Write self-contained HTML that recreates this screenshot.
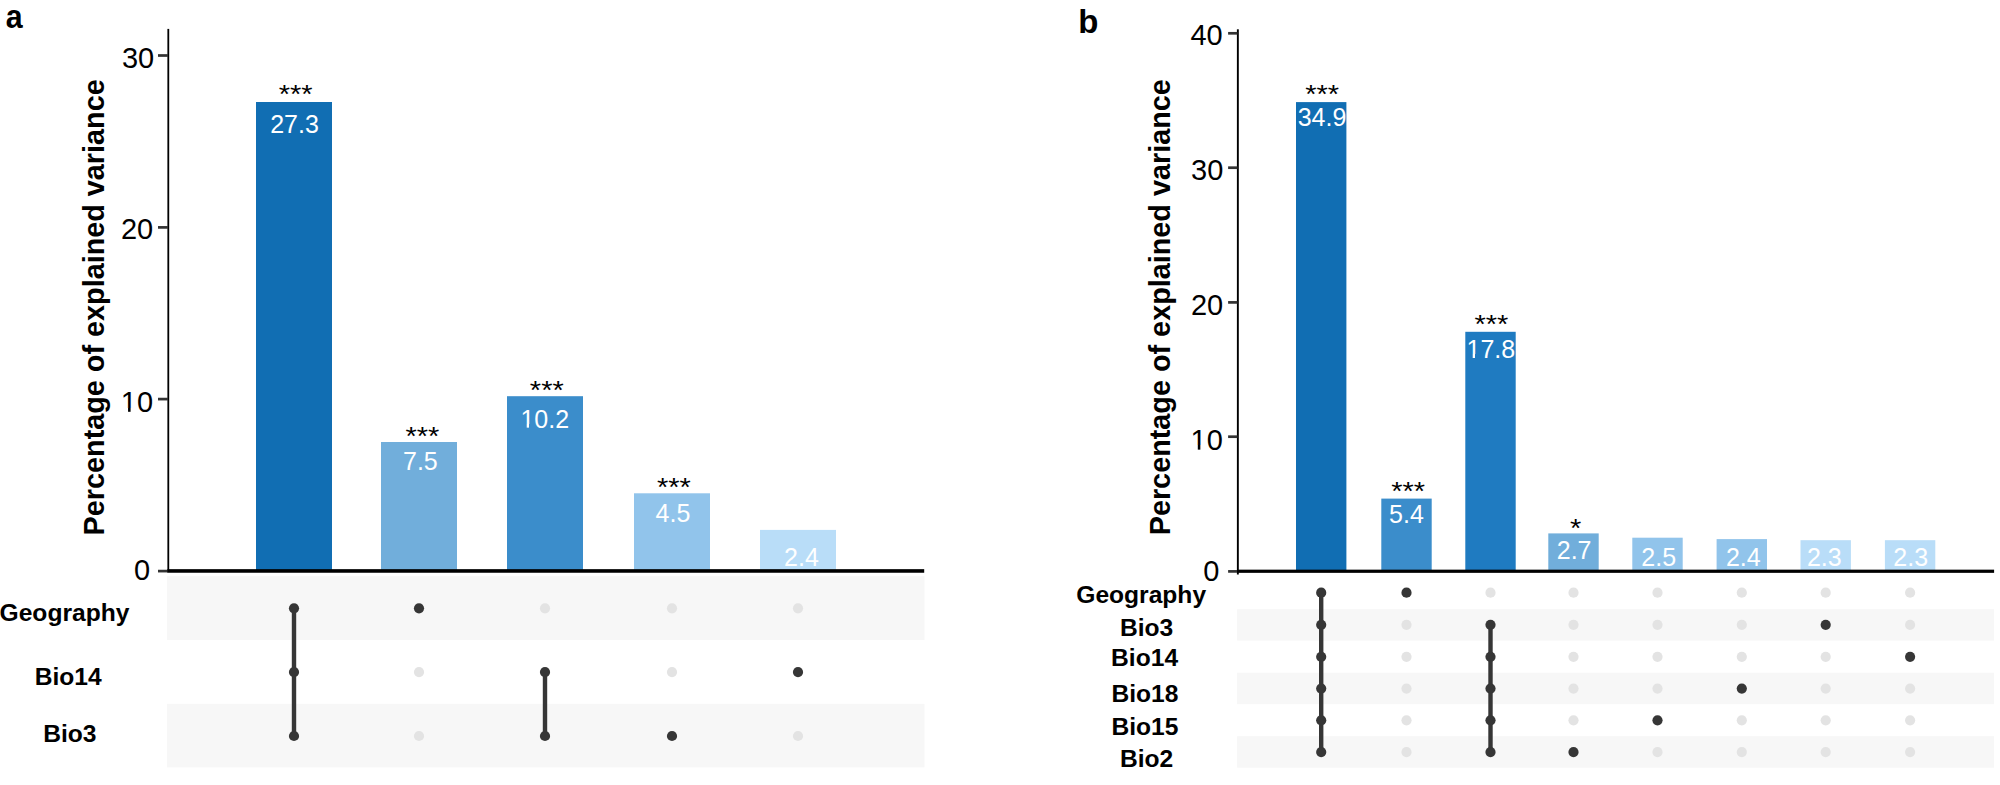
<!DOCTYPE html>
<html><head><meta charset="utf-8"><title>Explained variance</title>
<style>
html,body{margin:0;padding:0;background:#fff;}
body{width:2000px;height:785px;overflow:hidden;}
svg{display:block;font-family:"Liberation Sans", Arial, Helvetica, sans-serif;}
</style></head>
<body>
<svg width="2000" height="785" viewBox="0 0 2000 785">
<rect x="0" y="0" width="2000" height="785" fill="#fff"/>
<defs><clipPath id="c1_0" clipPathUnits="userSpaceOnUse"><rect x="-5" y="-58.00" width="116.00" height="54.311"/><rect x="16.24" y="-4.189" width="116.00" height="11.60"/></clipPath><clipPath id="c1_1" clipPathUnits="userSpaceOnUse"><rect x="-5" y="-58.00" width="116.00" height="53.485"/><rect x="16.24" y="-5.015" width="116.00" height="11.60"/></clipPath><clipPath id="c1_2" clipPathUnits="userSpaceOnUse"><rect x="-5" y="-50.00" width="100.00" height="46.350"/><rect x="14.00" y="-4.150" width="100.00" height="10.00"/></clipPath><clipPath id="c1_3" clipPathUnits="userSpaceOnUse"><rect x="-5" y="-50.00" width="100.00" height="46.000"/><rect x="14.00" y="-4.500" width="100.00" height="10.00"/></clipPath></defs>
<rect x="167.00" y="576.20" width="757.50" height="63.90" fill="#f7f7f7"/>
<rect x="167.00" y="703.80" width="757.50" height="63.60" fill="#f7f7f7"/>
<rect x="256.00" y="102.00" width="76.00" height="469.00" fill="#116eb3"/>
<rect x="381.00" y="442.00" width="76.00" height="129.00" fill="#71aedb"/>
<rect x="507.00" y="396.20" width="76.00" height="174.80" fill="#3b8dcb"/>
<rect x="634.00" y="493.30" width="76.00" height="77.70" fill="#91c4eb"/>
<rect x="760.00" y="529.90" width="76.00" height="41.10" fill="#b9ddf8"/>
<rect x="167.40" y="28.90" width="1.80" height="542.10" fill="#000"/>
<rect x="158.00" y="54.15" width="10.00" height="2.70" fill="#333333"/>
<rect x="158.00" y="226.05" width="10.00" height="2.70" fill="#333333"/>
<rect x="158.00" y="397.75" width="10.00" height="2.70" fill="#333333"/>
<rect x="158.00" y="569.75" width="10.00" height="2.70" fill="#333333"/>
<rect x="167.40" y="569.15" width="756.80" height="3.60" fill="#000"/>
<rect x="291.80" y="608.30" width="4.40" height="127.70" fill="#363636"/>
<circle cx="294.00" cy="608.30" r="5.1" fill="#363636"/>
<circle cx="294.00" cy="672.10" r="5.1" fill="#363636"/>
<circle cx="294.00" cy="736.00" r="5.1" fill="#363636"/>
<circle cx="419.00" cy="608.30" r="5.1" fill="#363636"/>
<circle cx="419.00" cy="672.10" r="5.1" fill="#e3e3e3"/>
<circle cx="419.00" cy="736.00" r="5.1" fill="#e3e3e3"/>
<rect x="542.80" y="672.10" width="4.40" height="63.90" fill="#363636"/>
<circle cx="545.00" cy="608.30" r="5.1" fill="#e3e3e3"/>
<circle cx="545.00" cy="672.10" r="5.1" fill="#363636"/>
<circle cx="545.00" cy="736.00" r="5.1" fill="#363636"/>
<circle cx="672.00" cy="608.30" r="5.1" fill="#e3e3e3"/>
<circle cx="672.00" cy="672.10" r="5.1" fill="#e3e3e3"/>
<circle cx="672.00" cy="736.00" r="5.1" fill="#363636"/>
<circle cx="798.00" cy="608.30" r="5.1" fill="#e3e3e3"/>
<circle cx="798.00" cy="672.10" r="5.1" fill="#363636"/>
<circle cx="798.00" cy="736.00" r="5.1" fill="#e3e3e3"/>
<rect x="1237.10" y="609.20" width="756.90" height="31.40" fill="#f7f7f7"/>
<rect x="1237.10" y="672.70" width="756.90" height="31.50" fill="#f7f7f7"/>
<rect x="1237.10" y="736.20" width="756.90" height="31.50" fill="#f7f7f7"/>
<rect x="1296.00" y="102.10" width="50.40" height="468.90" fill="#116eb3"/>
<rect x="1381.30" y="498.60" width="50.40" height="72.40" fill="#3b8dcb"/>
<rect x="1465.30" y="331.80" width="50.40" height="239.20" fill="#1f7bc1"/>
<rect x="1548.30" y="533.40" width="50.40" height="37.60" fill="#71aedb"/>
<rect x="1632.30" y="537.70" width="50.40" height="33.30" fill="#91c4eb"/>
<rect x="1716.60" y="539.10" width="50.40" height="31.90" fill="#91c4eb"/>
<rect x="1800.50" y="540.20" width="50.40" height="30.80" fill="#b9ddf8"/>
<rect x="1884.90" y="540.20" width="50.40" height="30.80" fill="#b9ddf8"/>
<rect x="1236.90" y="29.30" width="1.90" height="545.20" fill="#000"/>
<rect x="1228.10" y="31.95" width="9.40" height="2.70" fill="#333333"/>
<rect x="1228.10" y="166.35" width="9.40" height="2.70" fill="#333333"/>
<rect x="1228.10" y="301.05" width="9.40" height="2.70" fill="#333333"/>
<rect x="1228.10" y="435.35" width="9.40" height="2.70" fill="#333333"/>
<rect x="1228.10" y="570.05" width="9.40" height="2.70" fill="#333333"/>
<rect x="1237.00" y="569.65" width="757.10" height="3.20" fill="#000"/>
<rect x="1319.00" y="592.70" width="4.40" height="159.40" fill="#363636"/>
<circle cx="1321.20" cy="592.70" r="5.1" fill="#363636"/>
<circle cx="1321.20" cy="624.80" r="5.1" fill="#363636"/>
<circle cx="1321.20" cy="656.80" r="5.1" fill="#363636"/>
<circle cx="1321.20" cy="688.60" r="5.1" fill="#363636"/>
<circle cx="1321.20" cy="720.30" r="5.1" fill="#363636"/>
<circle cx="1321.20" cy="752.10" r="5.1" fill="#363636"/>
<circle cx="1406.50" cy="592.70" r="5.1" fill="#363636"/>
<circle cx="1406.50" cy="624.80" r="5.1" fill="#e3e3e3"/>
<circle cx="1406.50" cy="656.80" r="5.1" fill="#e3e3e3"/>
<circle cx="1406.50" cy="688.60" r="5.1" fill="#e3e3e3"/>
<circle cx="1406.50" cy="720.30" r="5.1" fill="#e3e3e3"/>
<circle cx="1406.50" cy="752.10" r="5.1" fill="#e3e3e3"/>
<rect x="1488.30" y="624.80" width="4.40" height="127.30" fill="#363636"/>
<circle cx="1490.50" cy="592.70" r="5.1" fill="#e3e3e3"/>
<circle cx="1490.50" cy="624.80" r="5.1" fill="#363636"/>
<circle cx="1490.50" cy="656.80" r="5.1" fill="#363636"/>
<circle cx="1490.50" cy="688.60" r="5.1" fill="#363636"/>
<circle cx="1490.50" cy="720.30" r="5.1" fill="#363636"/>
<circle cx="1490.50" cy="752.10" r="5.1" fill="#363636"/>
<circle cx="1573.50" cy="592.70" r="5.1" fill="#e3e3e3"/>
<circle cx="1573.50" cy="624.80" r="5.1" fill="#e3e3e3"/>
<circle cx="1573.50" cy="656.80" r="5.1" fill="#e3e3e3"/>
<circle cx="1573.50" cy="688.60" r="5.1" fill="#e3e3e3"/>
<circle cx="1573.50" cy="720.30" r="5.1" fill="#e3e3e3"/>
<circle cx="1573.50" cy="752.10" r="5.1" fill="#363636"/>
<circle cx="1657.50" cy="592.70" r="5.1" fill="#e3e3e3"/>
<circle cx="1657.50" cy="624.80" r="5.1" fill="#e3e3e3"/>
<circle cx="1657.50" cy="656.80" r="5.1" fill="#e3e3e3"/>
<circle cx="1657.50" cy="688.60" r="5.1" fill="#e3e3e3"/>
<circle cx="1657.50" cy="720.30" r="5.1" fill="#363636"/>
<circle cx="1657.50" cy="752.10" r="5.1" fill="#e3e3e3"/>
<circle cx="1741.80" cy="592.70" r="5.1" fill="#e3e3e3"/>
<circle cx="1741.80" cy="624.80" r="5.1" fill="#e3e3e3"/>
<circle cx="1741.80" cy="656.80" r="5.1" fill="#e3e3e3"/>
<circle cx="1741.80" cy="688.60" r="5.1" fill="#363636"/>
<circle cx="1741.80" cy="720.30" r="5.1" fill="#e3e3e3"/>
<circle cx="1741.80" cy="752.10" r="5.1" fill="#e3e3e3"/>
<circle cx="1825.70" cy="592.70" r="5.1" fill="#e3e3e3"/>
<circle cx="1825.70" cy="624.80" r="5.1" fill="#363636"/>
<circle cx="1825.70" cy="656.80" r="5.1" fill="#e3e3e3"/>
<circle cx="1825.70" cy="688.60" r="5.1" fill="#e3e3e3"/>
<circle cx="1825.70" cy="720.30" r="5.1" fill="#e3e3e3"/>
<circle cx="1825.70" cy="752.10" r="5.1" fill="#e3e3e3"/>
<circle cx="1910.10" cy="592.70" r="5.1" fill="#e3e3e3"/>
<circle cx="1910.10" cy="624.80" r="5.1" fill="#e3e3e3"/>
<circle cx="1910.10" cy="656.80" r="5.1" fill="#363636"/>
<circle cx="1910.10" cy="688.60" r="5.1" fill="#e3e3e3"/>
<circle cx="1910.10" cy="720.30" r="5.1" fill="#e3e3e3"/>
<circle cx="1910.10" cy="752.10" r="5.1" fill="#e3e3e3"/>
<g transform="translate(5.70 28.45) scale(0.92 1.0)">
<text x="0.00" y="0.00" font-size="33" font-weight="bold" fill="#000">a</text>
</g>
<g transform="translate(1078.15 32.90)">
<text x="0.00" y="0.00" font-size="33" font-weight="bold" fill="#000">b</text>
</g>
<g transform="translate(121.90 67.70) scale(1.0 1.03)">
<text x="0.00" y="0.00" font-size="29" fill="#000">30</text>
</g>
<g transform="translate(120.95 238.90) scale(1.0 1.03)">
<text x="0.00" y="0.00" font-size="29" fill="#000">20</text>
</g>
<g transform="translate(120.80 411.80) scale(1.0 1.03)">
<text x="0.00" y="0.00" font-size="29" fill="#000" clip-path="url(#c1_0)">10</text>
<rect x="7.259" y="-3.689" width="2.525" height="3.689" fill="#000"/>
</g>
<g transform="translate(134.10 580.05) scale(1.0 1.03)">
<text x="0.00" y="0.00" font-size="29" fill="#000">0</text>
</g>
<g transform="translate(1190.50 44.65) scale(1.0 1.03)">
<text x="0.00" y="0.00" font-size="29" fill="#000">40</text>
</g>
<g transform="translate(1191.10 180.25) scale(1.0 1.03)">
<text x="0.00" y="0.00" font-size="29" fill="#000">30</text>
</g>
<g transform="translate(1190.95 314.95) scale(1.0 1.03)">
<text x="0.00" y="0.00" font-size="29" fill="#000">20</text>
</g>
<g transform="translate(1190.60 449.65) scale(1.0 1.03)">
<text x="0.00" y="0.00" font-size="29" fill="#000" clip-path="url(#c1_1)">10</text>
<rect x="7.196" y="-4.515" width="2.549" height="4.515" fill="#000"/>
</g>
<g transform="translate(1203.20 581.30) scale(1.0 1.03)">
<text x="0.00" y="0.00" font-size="29" fill="#000">0</text>
</g>
<g transform="translate(104.15 535.40) rotate(-90) scale(1.0 1.04)">
<text x="0.00" y="0.00" font-size="28.8" font-weight="bold" fill="#000">Percentage of explained variance</text>
</g>
<g transform="translate(1169.70 535.30) rotate(-90) scale(1.0 1.04)">
<text x="0.00" y="0.00" font-size="28.8" font-weight="bold" fill="#000">Percentage of explained variance</text>
</g>
<g transform="translate(278.80 103.05) scale(1.0 0.9)">
<text x="0.00" y="0.00" font-size="29" fill="#000">***</text>
</g>
<g transform="translate(405.40 445.15) scale(1.0 0.9)">
<text x="0.00" y="0.00" font-size="29" fill="#000">***</text>
</g>
<g transform="translate(529.85 399.15) scale(1.0 0.9)">
<text x="0.00" y="0.00" font-size="29" fill="#000">***</text>
</g>
<g transform="translate(657.00 496.25) scale(1.0 0.9)">
<text x="0.00" y="0.00" font-size="29" fill="#000">***</text>
</g>
<g transform="translate(1305.25 103.20) scale(1.0 0.9)">
<text x="0.00" y="0.00" font-size="29" fill="#000">***</text>
</g>
<g transform="translate(1391.30 500.30) scale(1.0 0.9)">
<text x="0.00" y="0.00" font-size="29" fill="#000">***</text>
</g>
<g transform="translate(1474.45 333.40) scale(1.0 0.9)">
<text x="0.00" y="0.00" font-size="29" fill="#000">***</text>
</g>
<g transform="translate(1569.95 537.15) scale(1.0 0.9)">
<text x="0.00" y="0.00" font-size="29" fill="#000">*</text>
</g>
<g transform="translate(270.15 132.85)">
<text x="0.00" y="0.00" font-size="25" fill="#ffffff">27.3</text>
</g>
<g transform="translate(403.00 470.05)">
<text x="0.00" y="0.00" font-size="25" fill="#ffffff">7.5</text>
</g>
<g transform="translate(520.45 427.65)">
<text x="0.00" y="0.00" font-size="25" fill="#ffffff" clip-path="url(#c1_2)">10.2</text>
<rect x="6.278" y="-3.650" width="2.272" height="3.650" fill="#ffffff"/>
</g>
<g transform="translate(655.60 521.95)">
<text x="0.00" y="0.00" font-size="25" fill="#ffffff">4.5</text>
</g>
<g transform="translate(784.05 566.00)">
<text x="0.00" y="0.00" font-size="25" fill="#ffffff">2.4</text>
</g>
<g transform="translate(1297.70 126.10)">
<text x="0.00" y="0.00" font-size="25" fill="#ffffff">34.9</text>
</g>
<g transform="translate(1389.05 523.40)">
<text x="0.00" y="0.00" font-size="25" fill="#ffffff">5.4</text>
</g>
<g transform="translate(1466.50 358.00)">
<text x="0.00" y="0.00" font-size="25" fill="#ffffff" clip-path="url(#c1_3)">17.8</text>
<rect x="6.225" y="-4.000" width="2.275" height="4.000" fill="#ffffff"/>
</g>
<g transform="translate(1556.75 558.85)">
<text x="0.00" y="0.00" font-size="25" fill="#ffffff">2.7</text>
</g>
<g transform="translate(1641.35 566.20)">
<text x="0.00" y="0.00" font-size="25" fill="#ffffff">2.5</text>
</g>
<g transform="translate(1725.90 566.20)">
<text x="0.00" y="0.00" font-size="25" fill="#ffffff">2.4</text>
</g>
<g transform="translate(1806.95 566.15)">
<text x="0.00" y="0.00" font-size="25" fill="#ffffff">2.3</text>
</g>
<g transform="translate(1893.35 566.40)">
<text x="0.00" y="0.00" font-size="25" fill="#ffffff">2.3</text>
</g>
<g transform="translate(-0.45 621.15)">
<text x="0.00" y="0.00" font-size="24.6" font-weight="bold" fill="#000">Geography</text>
</g>
<g transform="translate(34.70 684.90)">
<text x="0.00" y="0.00" font-size="24.6" font-weight="bold" fill="#000">Bio14</text>
</g>
<g transform="translate(43.25 742.00)">
<text x="0.00" y="0.00" font-size="24.6" font-weight="bold" fill="#000">Bio3</text>
</g>
<g transform="translate(1076.25 602.55)">
<text x="0.00" y="0.00" font-size="24.6" font-weight="bold" fill="#000">Geography</text>
</g>
<g transform="translate(1119.90 635.55)">
<text x="0.00" y="0.00" font-size="24.6" font-weight="bold" fill="#000">Bio3</text>
</g>
<g transform="translate(1111.10 666.45)">
<text x="0.00" y="0.00" font-size="24.6" font-weight="bold" fill="#000">Bio14</text>
</g>
<g transform="translate(1111.45 702.10)">
<text x="0.00" y="0.00" font-size="24.6" font-weight="bold" fill="#000">Bio18</text>
</g>
<g transform="translate(1111.45 734.50)">
<text x="0.00" y="0.00" font-size="24.6" font-weight="bold" fill="#000">Bio15</text>
</g>
<g transform="translate(1119.95 766.90)">
<text x="0.00" y="0.00" font-size="24.6" font-weight="bold" fill="#000">Bio2</text>
</g>
</svg>
</body></html>
